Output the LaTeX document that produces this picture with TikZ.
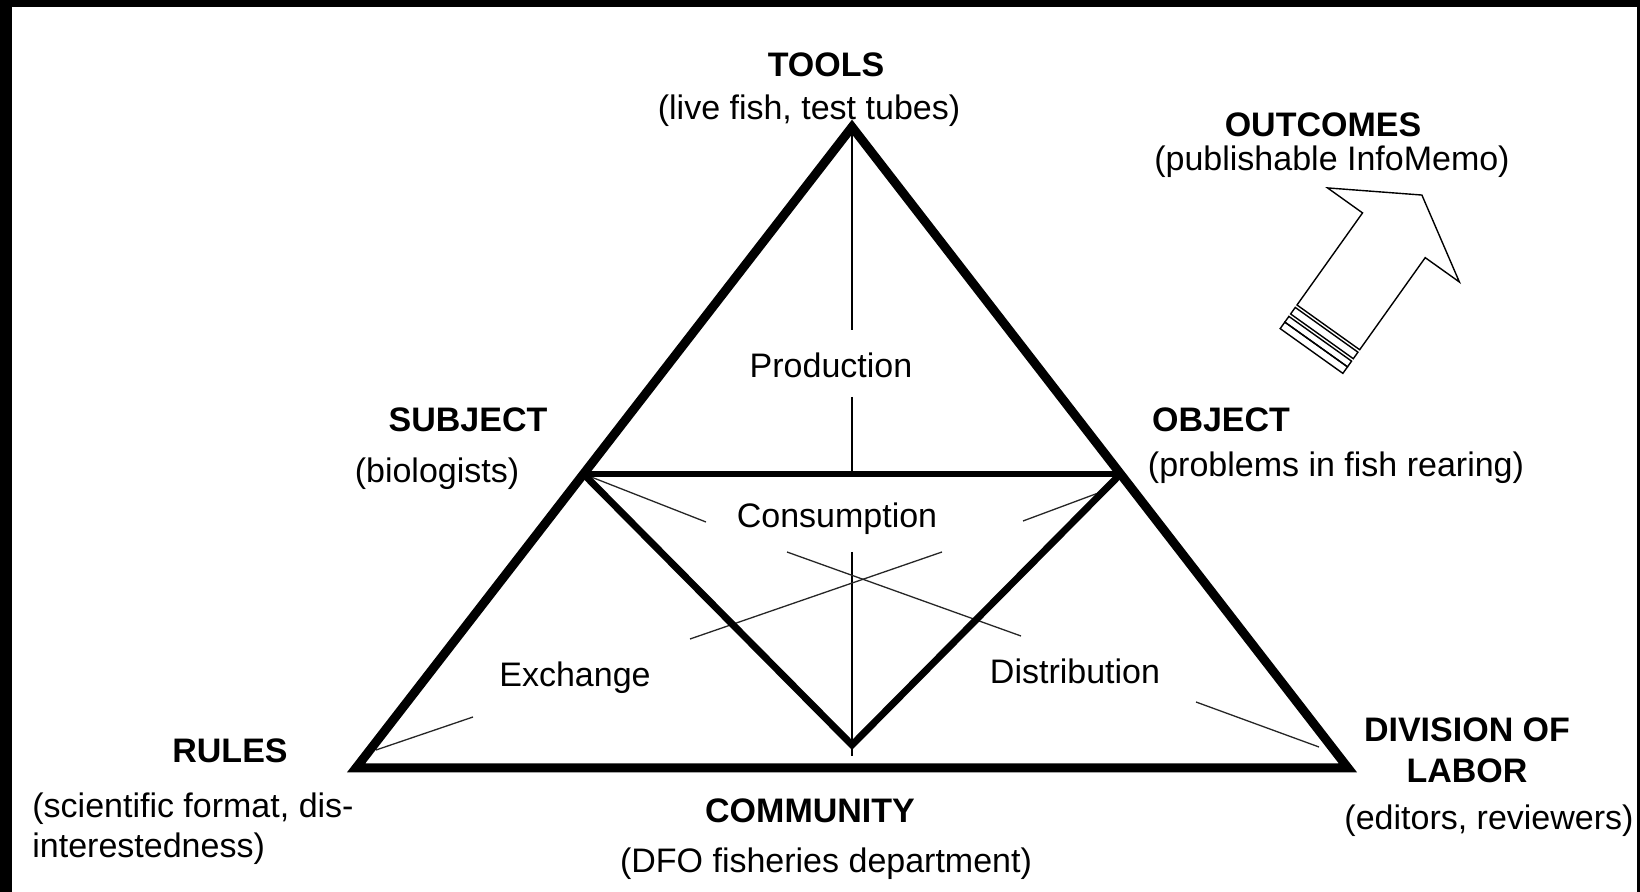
\documentclass[tikz,border=0pt]{standalone}
\usepackage{fontspec}
\setmainfont{Liberation Sans}
\begin{document}
\begin{tikzpicture}[x=0.5pt,y=-0.5pt,line join=miter]
\tikzset{
  lbl/.style={font=\fontsize{17pt}{20pt}\selectfont\bfseries, anchor=base, inner sep=0pt},
  sub/.style={font=\fontsize{17pt}{20pt}\selectfont, anchor=base, inner sep=0pt},
  outeredge/.style={line width=4.5pt},
  midedge/.style={line width=3pt},
  veeedge/.style={line width=3.5pt},
  thinline/.style={line width=0.75pt},
  hairline/.style={line width=0.65pt, black!85},
  bigarrow/.style={line width=0.7pt}
}
\useasboundingbox (0,0) rectangle (1640,892);
\fill[white] (0,0) rectangle (1640,892);
\fill[black] (0,0) rectangle (1640,7);
\fill[black] (0,0) rectangle (12,892);
\fill[black] (1637,0) rectangle (1640,892);

% key points
\coordinate (A) at (852,127);
\coordinate (BL) at (356,768);
\coordinate (BR) at (1348,768);
\coordinate (S) at (583.5,474);
\coordinate (O) at (1120.5,474);
\coordinate (V) at (852,745);
\coordinate (M) at (852,474);
\coordinate (p1) at (852,330);
\coordinate (p2) at (852,397);
\coordinate (c1) at (852,552);
\coordinate (Vb) at (852,756);

% vertical thin line
\draw[thinline] (A) -- (p1);
\draw[thinline] (p2) -- (M);
\draw[thinline] (c1) -- (Vb);

% thin radiating lines
\coordinate (l1) at (706,522);
\coordinate (r0) at (1109,489);
\coordinate (r1) at (1023,521);
\coordinate (x1a) at (787,552);
\coordinate (x1b) at (1021,636);
\coordinate (x2a) at (942,552);
\coordinate (x2b) at (690,639);
\coordinate (bl1) at (376,750);
\coordinate (bl2) at (473,717);
\coordinate (br1) at (1196,702);
\coordinate (br2) at (1319,747);
\draw[hairline] (S) -- (l1);
\draw[hairline] (r0) -- (r1);
\draw[hairline] (x1a) -- (x1b);
\draw[hairline] (x2a) -- (x2b);
\draw[hairline] (bl1) -- (bl2);
\draw[hairline] (br1) -- (br2);

% triangles
\draw[outeredge] (A) -- (BR) -- (BL) -- cycle;
\draw[midedge] (S) -- (O);
\draw[veeedge] (S) -- (V) -- (O);

% outcome arrow
\begin{scope}[shift={(1297,305)}, x={(0.407pt,-0.2905pt)}, y={(-0.29pt,-0.4075pt)}, bigarrow]
\draw (0,0) -- (0,-113) -- (-43,-113) -- (38,-162) -- (119,-113) -- (77,-113) -- (77,0) -- cycle;
\draw (0,3) -- (77,3) -- (77,11) -- (0,11) -- cycle;
\draw (0,14) -- (77,14) -- (77,21) -- (0,21) -- cycle;
\draw (0,21) -- (77,21) -- (77,29) -- (0,29) -- cycle;
\end{scope}

% labels
\node[lbl] (tools) at (826,77) {TOOLS};
\node[sub] (toolsd) at (809,120) {(live fish, test tubes)};
\node[lbl] (outc) at (1323,137) {OUTCOMES};
\node[sub] (outcd) at (1332,171) {(publishable InfoMemo)};
\node[lbl] (subj) at (468,432) {SUBJECT};
\node[sub] (subjd) at (437,483) {(biologists)};
\node[lbl] (obj) at (1221,432) {OBJECT};
\node[sub] (objd) at (1336,477) {(problems in fish rearing)};
\node[sub] (prod) at (831,378) {Production};
\node[sub] (cons) at (837,528) {Consumption};
\node[sub] (exch) at (575,687) {Exchange};
\node[sub] (dist) at (1075,684) {Distribution};
\node[lbl] (rules) at (230,763) {RULES};
\node[sub, anchor=base west] (rulesd1) at (32,818) {(scientific format, dis-};
\node[sub, anchor=base west] (rulesd2) at (32,857) {interestedness)};
\node[lbl] (comm) at (810,823) {COMMUNITY};
\node[sub] (commd) at (826,873) {(DFO fisheries department)};
\node[lbl] (div1) at (1467,742) {DIVISION OF};
\node[lbl] (div2) at (1467,783) {LABOR};
\node[sub] (divd) at (1489,830) {(editors, reviewers)};
\end{tikzpicture}
\end{document}
